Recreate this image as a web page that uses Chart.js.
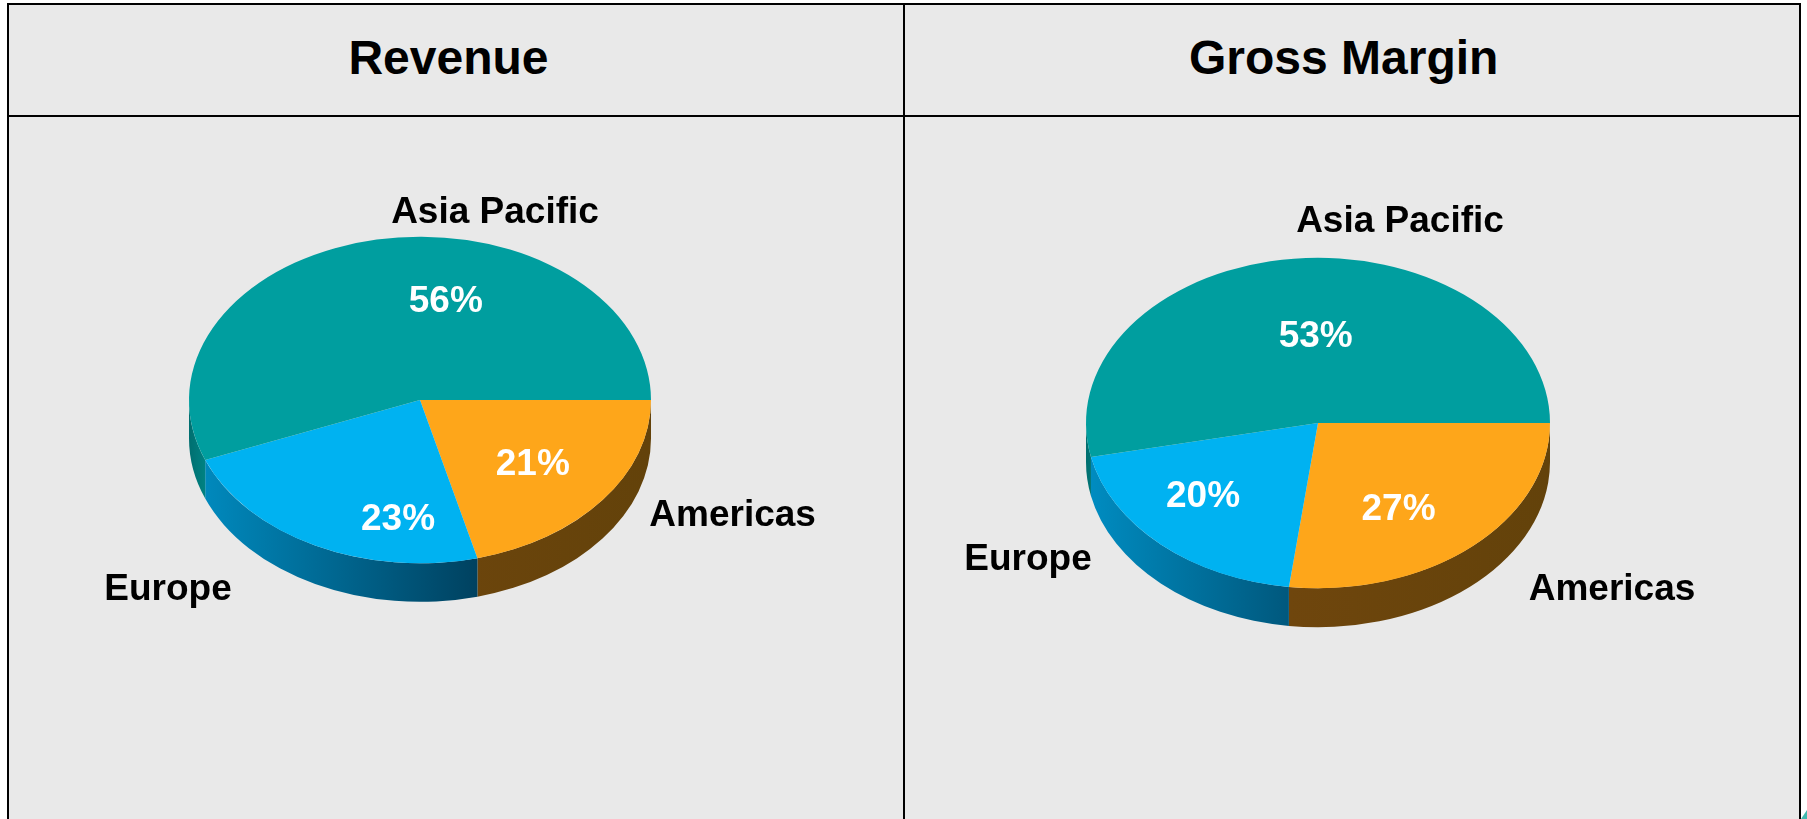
<!DOCTYPE html>
<html>
<head>
<meta charset="utf-8">
<title>Revenue and Gross Margin</title>
<script src="https://cdn.jsdelivr.net/npm/chart.js@4/dist/chart.umd.min.js"></script>
<style>
html, body { margin: 0; padding: 0; background: #fff; overflow: hidden; }
#frame { position: absolute; left: 0; top: 0; width: 1807px; height: 819px; }
.panel { position: absolute; background: #e9e9e9; }
.rule { position: absolute; background: #000; }
.head {
    position: absolute; top: 33.5px; width: 600px; text-align: center;
    font: bold 48px "Liberation Sans", Arial, sans-serif; line-height: 48px; color: #000;
}
canvas { position: absolute; display: block; }
#corner { position: absolute; left: 1801px; top: 810px; width: 6px; height: 9px; background: #40b8ae; clip-path: polygon(0 100%, 100% 0, 100% 100%); }
</style>
</head>
<body>
<div id="frame">
    <div class="panel" style="left:7px;top:3px;width:1794px;height:816px"></div>
    <div class="rule" style="left:7px;top:3px;width:1794px;height:2px"></div>
    <div class="rule" style="left:7px;top:115px;width:1794px;height:2px"></div>
    <div class="rule" style="left:7px;top:3px;width:2px;height:816px"></div>
    <div class="rule" style="left:903px;top:3px;width:2px;height:816px"></div>
    <div class="rule" style="left:1799px;top:3px;width:2px;height:816px"></div>
    <div class="head" style="left:148.5px">Revenue</div>
    <div class="head" style="left:1043.7px">Gross Margin</div>
    <canvas id="c_revenue" width="894" height="702" style="left:9px;top:117px"></canvas>
    <canvas id="c_margin" width="894" height="702" style="left:905px;top:117px"></canvas>
    <div id="corner"></div>
</div>
<script>
var categories = ['Americas', 'Europe', 'Asia Pacific'];
var revenueShare = [21, 23, 56];
// slices as measured, they print as 27, 20 and 53
var marginShare = [27, 19.7, 53.3];

var faceColors = ['#fea61a', '#00b2f1', '#009e9f'];
// side wall colours and where they run, as a fraction of the radius from the middle
var wallColors = [['#6f460d', '#63420a'], ['#008dc2', '#00405e'], ['#006f70', '#008a8a']];
var wallRange = [[-0.13, 1], [-1, 0.27], [-1, -0.9]];

var labelFont = 'bold 37px "Liberation Sans", Arial, sans-serif';

// hand placed text, [x, baseline] on the page, same order as categories
var revenueText = {
    names: [[732.6, 525.5], [168, 600], [495, 222.7]],
    shares: [[532.8, 475], [398, 530], [445.8, 311.7]]
};
var marginText = {
    names: [[1612, 600], [1028, 569.5], [1400, 231.7]],
    shares: [[1398.5, 520], [1203, 507], [1315.7, 346.7]]
};

// tilts the flat pie and adds the side wall, angles come from the arc elements
var tiltPlugin = {
    id: 'tilt',
    beforeDatasetsDraw: function(chart, args, opts) {
        var ctx = chart.ctx;
        var arcs = chart.getDatasetMeta(0).data;
        var cx = arcs[0].x, cy = arcs[0].y, r = arcs[0].outerRadius;
        var ry = r * opts.squash;

        arcs.forEach(function(arc, i) {
            var from = Math.max(arc.startAngle, 0);
            var to = Math.min(arc.endAngle, Math.PI);
            if (to <= from) return;

            var grad = ctx.createLinearGradient(cx + r * wallRange[i][0], 0, cx + r * wallRange[i][1], 0);
            grad.addColorStop(0, wallColors[i][0]);
            grad.addColorStop(1, wallColors[i][1]);

            ctx.beginPath();
            ctx.ellipse(cx, cy, r, ry, 0, from, to);
            ctx.ellipse(cx, cy + opts.depth, r, ry, 0, to, from, true);
            ctx.closePath();
            ctx.fillStyle = grad;
            ctx.fill();
        });

        ctx.save();
        ctx.translate(cx, cy);
        ctx.scale(1, opts.squash);
        ctx.translate(-cx, -cy);
    },
    afterDatasetsDraw: function(chart) {
        chart.ctx.restore();
    },
    afterDraw: function(chart, args, opts) {
        var ctx = chart.ctx;
        var box = chart.canvas.getBoundingClientRect();
        var values = chart.data.datasets[0].data;
        ctx.save();
        ctx.font = labelFont;
        ctx.textAlign = 'center';
        ctx.textBaseline = 'alphabetic';
        chart.data.labels.forEach(function(name, i) {
            ctx.fillStyle = '#000';
            ctx.fillText(name, opts.text.names[i][0] - box.left, opts.text.names[i][1] - box.top);
            ctx.fillStyle = '#fff';
            ctx.fillText(Math.round(values[i]) + '%', opts.text.shares[i][0] - box.left, opts.text.shares[i][1] - box.top);
        });
        ctx.restore();
    }
};

addPie = function(id, label, values, padding, tilt) {
    return new Chart(document.getElementById(id), {
        type: 'pie',
        data: {
            labels: categories,
            datasets: [{
                label: label,
                data: values,
                backgroundColor: faceColors,
                borderWidth: 0
            }]
        },
        options: {
            responsive: false,
            animation: false,
            rotation: 90,
            layout: { padding: padding },
            plugins: {
                legend: { display: false },
                tooltip: { enabled: false },
                tilt: tilt
            }
        },
        plugins: [tiltPlugin]
    });
};

// circle of 462 at (420, 400) and of 464 at (1318, 423) before the tilt
addPie('c_revenue', 'Revenue', revenueShare,
    { left: 180, right: 252, top: 52, bottom: 188 },
    { squash: 0.707, depth: 38.5, text: revenueText });
addPie('c_margin', 'Gross Margin', marginShare,
    { left: 181, right: 249, top: 74, bottom: 164 },
    { squash: 0.712, depth: 39, text: marginText });
</script>
</body>
</html>
